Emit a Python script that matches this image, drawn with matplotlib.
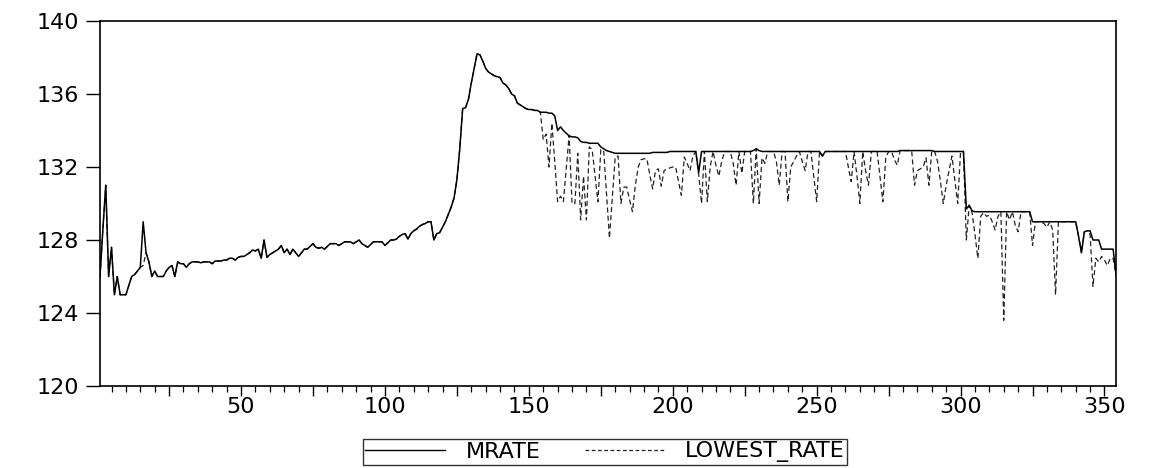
import matplotlib
matplotlib.use("Agg")
import matplotlib.pyplot as plt
from matplotlib.ticker import MultipleLocator, FuncFormatter, FixedLocator
from matplotlib.lines import Line2D

# ---------------- data ----------------
mrate = [
    126.0, 128.6, 131.0, 126.0, 127.6, 125.0, 126.0, 125.0, 125.0, 125.0,
    125.5, 126.0, 126.1, 126.3, 126.5, 129.0, 127.3, 126.8, 126.0, 126.3,
    126.0, 126.0, 126.0, 126.3, 126.5, 126.6, 126.0, 126.8, 126.7, 126.7,
    126.5, 126.7, 126.8, 126.8, 126.8, 126.75, 126.8, 126.8, 126.8, 126.7,
    126.85, 126.85, 126.85, 126.9, 126.9, 127.0, 127.0, 126.9, 127.05, 127.1,
    127.1, 127.2, 127.3, 127.45, 127.4, 127.5, 127.0, 128.0, 127.05, 127.2,
    127.3, 127.4, 127.5, 127.7, 127.3, 127.5, 127.2, 127.5, 127.3, 127.1,
    127.3, 127.5, 127.5, 127.65, 127.8, 127.6, 127.55, 127.6, 127.5, 127.65,
    127.8, 127.8, 127.8, 127.7, 127.8, 127.9, 127.9, 127.9, 127.8, 127.9,
    128.0, 127.8, 127.7, 127.6, 127.75, 127.9, 127.9, 127.9, 127.9, 127.7,
    127.85, 128.0, 128.0, 128.05, 128.2, 128.3, 128.35, 128.05, 128.35, 128.5,
    128.6, 128.75, 128.85, 128.9, 129.0, 129.0, 128.0, 128.35, 128.4, 128.7,
    129.0, 129.4, 129.8, 130.3, 131.3, 133.0, 135.2, 135.25, 135.7, 136.6,
    137.4, 138.2, 138.15, 137.8, 137.4, 137.2, 137.1, 137.0, 136.95, 136.9,
    136.6, 136.5, 136.3, 136.0, 135.9, 135.5, 135.4, 135.3, 135.2, 135.15,
    135.15, 135.1, 135.1, 135.0, 135.0, 135.0, 134.95, 134.95, 134.8, 134.0,
    134.2, 134.0, 133.85, 133.7, 133.65, 133.65, 133.6, 133.4, 133.35, 133.35,
    133.3, 133.3, 133.3, 133.3, 133.1, 133.0, 132.9, 132.85, 132.8, 132.75,
    132.75, 132.75, 132.75, 132.75, 132.75, 132.75, 132.75, 132.75, 132.75, 132.75,
    132.75, 132.75, 132.8, 132.8, 132.8, 132.8, 132.8, 132.8, 132.85, 132.85,
    132.85, 132.85, 132.85, 132.85, 132.85, 132.85, 132.85, 132.85, 131.7, 132.85,
    132.85, 132.85, 132.85, 132.85, 132.85, 132.85, 132.85, 132.85, 132.85, 132.85,
    132.85, 132.85, 132.85, 132.85, 132.85, 132.85, 132.85, 132.9, 133.0, 132.9,
    132.85, 132.85, 132.85, 132.85, 132.85, 132.85, 132.85, 132.85, 132.85, 132.85,
    132.85, 132.85, 132.85, 132.85, 132.85, 132.85, 132.85, 132.85, 132.85, 132.85,
    132.85, 132.6, 132.85, 132.85, 132.85, 132.85, 132.85, 132.85, 132.85, 132.85,
    132.85, 132.85, 132.85, 132.85, 132.85, 132.85, 132.85, 132.85, 132.85, 132.85,
    132.85, 132.85, 132.85, 132.85, 132.85, 132.85, 132.85, 132.85, 132.9, 132.9,
    132.9, 132.9, 132.9, 132.9, 132.9, 132.9, 132.9, 132.9, 132.9, 132.9,
    132.85, 132.85, 132.85, 132.85, 132.85, 132.85, 132.85, 132.85, 132.85, 132.85,
    132.85, 129.7, 129.9, 129.6, 129.55, 129.55, 129.55, 129.55, 129.55, 129.55,
    129.55, 129.55, 129.55, 129.55, 129.55, 129.55, 129.55, 129.55, 129.55, 129.55,
    129.55, 129.55, 129.55, 129.55, 129.0, 129.0, 129.0, 129.0, 129.0, 129.0,
    129.0, 129.0, 129.0, 129.0, 129.0, 129.0, 129.0, 129.0, 129.0, 129.0,
    128.2, 127.3, 128.45, 128.5, 128.5, 128.0, 128.0, 128.0, 127.5, 127.5,
    127.5, 127.5, 127.5, 126.1,
]

# observations where LOWEST_RATE lies below MRATE (observation number, value)
dip_obs = [
    16, 155, 156, 157, 158, 159, 160, 161, 162, 163, 164, 165, 166, 167, 168,
    169, 170, 171, 172, 173, 174, 175, 176, 177, 178, 179, 180, 181, 182, 183,
    184, 185, 186, 187, 188, 189, 190, 191, 192, 193, 194, 195, 196, 197, 198,
    199, 200, 201, 202, 203, 204, 205, 206, 207,
    209, 210, 212, 213, 215, 216, 217, 221, 222, 224, 228, 230, 231, 232,
    236, 237, 240, 241, 242, 243, 245, 246, 249, 250, 261, 262, 264, 265,
    267, 268, 272, 273, 274, 277, 278, 284, 285, 286, 287, 288, 289, 292,
    293, 294, 295, 296, 297, 298, 299,
    302, 303, 304, 305, 306, 307, 308, 309, 310, 311, 312, 313, 315, 317,
    319, 320, 325, 329, 330, 332, 333, 345, 346, 347, 348, 349, 350, 351,
    352, 353,
]
dip_val = [
    126.6, 133.5, 133.8, 132.0, 134.4, 132.3, 130.1, 130.4, 130.1, 131.9,
    133.75, 130.0, 130.0, 132.75, 129.1, 131.5, 129.1, 133.1, 132.95, 131.5,
    130.1, 132.95, 132.9, 130.5, 128.1, 130.3, 132.55, 132.6, 130.0, 130.9,
    130.9, 130.2, 129.55, 131.0, 132.0, 132.4, 132.45, 132.45, 131.6, 130.8,
    131.8, 131.9, 130.95, 131.8, 131.9, 131.95, 132.0, 132.0, 131.2, 130.45,
    132.55, 132.2, 131.8, 132.6,
    131.6, 130.0, 130.1, 132.0, 132.1, 131.5, 132.3, 132.2, 131.0, 131.65,
    130.0, 130.0, 132.5, 132.2, 132.3, 131.0, 130.1, 132.0, 132.3, 132.6,
    132.3, 131.8, 131.5, 130.1, 132.0, 131.2, 131.5, 130.0, 131.8, 131.0,
    131.5, 130.1, 132.5, 132.4, 132.1, 131.0, 131.8, 131.9, 132.0, 132.5,
    131.0, 132.3, 131.2, 130.0, 131.0, 131.8, 132.6, 131.3, 130.0,
    128.0, 129.9, 129.5, 128.3, 127.0, 129.3, 129.5, 129.3, 129.35, 129.0,
    128.55, 129.3, 123.6, 129.1, 128.8, 128.45, 127.7, 128.9, 128.7, 128.55,
    125.0, 128.3, 125.45, 127.0, 126.8, 127.1, 126.9, 126.6, 127.0, 127.0,
]

series_names = ["MRATE", "LOWEST_RATE"]
y_ticks = [120, 124, 128, 132, 136, 140]

obs = list(range(1, len(mrate) + 1))
lowest = list(mrate)
for o, v in zip(dip_obs, dip_val):
    lowest[o - 1] = v

# ---------------- figure ----------------
plt.rcParams["font.family"] = ["DejaVu Sans"]
fig = plt.figure(figsize=(11.5, 4.68), dpi=100)
ax = fig.add_axes([100 / 1150, 1 - 386 / 468, (1116 - 100) / 1150, (386 - 21) / 468])

ax.plot(obs, lowest, color="#222222", lw=0.9, linestyle=(0, (4, 2.5)), zorder=2)
ax.plot(obs, mrate, color="black", lw=1.1, zorder=3)

ax.set_xlim(1, len(mrate))
ax.set_ylim(120, 140)

ax.yaxis.set_major_locator(FixedLocator(y_ticks))
ax.xaxis.set_major_locator(MultipleLocator(25))
ax.xaxis.set_minor_locator(MultipleLocator(5))
ax.xaxis.set_major_formatter(FuncFormatter(lambda v, p: f"{int(v)}" if int(v) % 50 == 0 and v > 0 else ""))

ax.tick_params(axis="y", which="major", direction="out", length=10, width=1.0,
               labelsize=16, pad=5, colors="black")
ax.tick_params(axis="x", which="major", direction="out", length=7, width=1.0,
               labelsize=16, pad=1)
ax.tick_params(axis="x", which="minor", direction="out", length=4, width=0.9)
ax.tick_params(top=False, right=False)
for s in ax.spines.values():
    s.set_linewidth(1.2)
    s.set_color("black")

handles = [Line2D([], [], color="black", lw=1.0),
           Line2D([], [], color="#222222", lw=0.9, linestyle=(0, (3, 2)))]
leg = fig.legend(handles, series_names, loc="center",
                 bbox_to_anchor=(605 / 1150, 1 - 452 / 468), ncol=2,
                 frameon=True, fancybox=False, edgecolor="black",
                 fontsize=16, handlelength=3.6, handletextpad=0.9,
                 columnspacing=2.0, borderpad=0.1, borderaxespad=0)
leg.get_frame().set_linewidth(1.0)

fig.savefig("out.png", dpi=100)
